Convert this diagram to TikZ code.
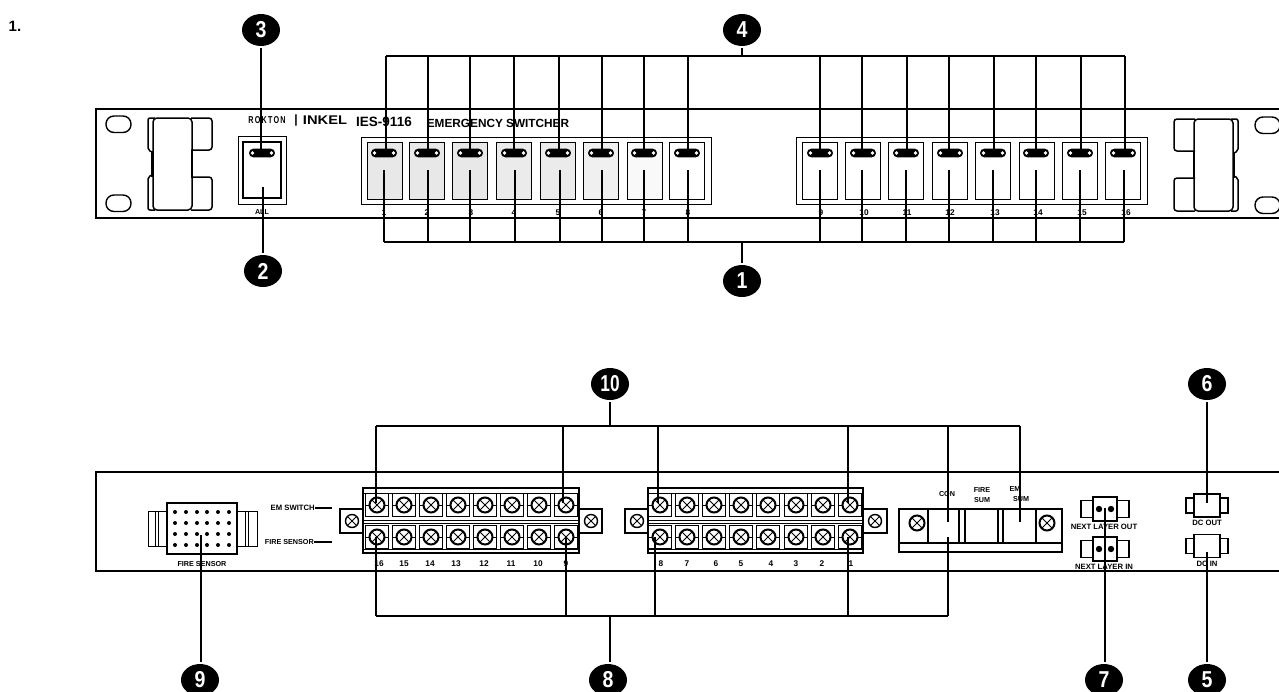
\documentclass[tikz,border=0pt]{standalone}
\usepackage{fontspec}
\setmainfont{Liberation Sans}
\usetikzlibrary{shapes.geometric}
\tikzset{
    leader/.style={line width=1.1pt, color=black},
    box/.style={line width=1pt, color=black},
    panel/.style={line width=1.5pt, color=black},
    bubble/.style={ellipse, fill=black, text=white, inner sep=0pt, outer sep=2pt, minimum width=38pt, minimum height=32pt, font=\bfseries\fontsize{23}{23}\selectfont},
    lab/.style={inner sep=0pt, font=\bfseries\fontsize{7.2}{8}\selectfont},
    numlab/.style={inner sep=0pt, font=\bfseries\fontsize{8.3}{9}\selectfont},
    plugnote/.style={inner sep=0pt, font=\bfseries\fontsize{7.7}{8}\selectfont},
    mounthole/.style={line width=1.4pt, rounded corners=8pt},
    screw/.pic={
        \draw[box] (-11.5,-11.5) rectangle (11.5,11.5);
        \draw[box] (-11.5,0) -- (-8,0) (8,0) -- (11.5,0);
        \draw[line width=2pt] (0,0) circle (7.5);
        \draw[line width=0.9pt] (-5,-5) -- (5,5) (-5,5) -- (5,-5);
    },
    earscrew/.pic={
        \draw[line width=1.4pt] (0,0) circle (6.5);
        \draw[line width=0.9pt] (-4.5,-4.5) -- (4.5,4.5) (-4.5,4.5) -- (4.5,-4.5);
    },
    handle/.pic={
        \draw[panel, rounded corners=4pt] (0,0) rectangle (39,92);
        \draw[panel, rounded corners=3pt] (38,0) -- (59,0) -- (59,32) -- (38,32);
        \draw[panel, rounded corners=3pt] (38,59) -- (59,59) -- (59,92) -- (38,92);
        \draw[panel, rounded corners=2pt] (2,0) -- (-5,0) -- (-5,32) -- (-1,34);
        \draw[panel, rounded corners=2pt] (-1,57) -- (-5,59) -- (-5,92) -- (2,92);
        \draw[line width=2.2pt] (-1,33) -- (-1,59) (39,32) -- (39,59);
    },
    powerplug/.pic={
        \draw[line width=1.2pt] (-13,-11.5) rectangle (13,11.5);
        \draw[line width=1.2pt] (-13,-7.5) -- (-21,-7.5) -- (-21,7.5) -- (-13,7.5);
        \draw[line width=1.2pt] (13,-7.5) -- (21,-7.5) -- (21,7.5) -- (13,7.5);
    },
    layerplug/.pic={
        \draw[line width=1.2pt] (-12,-12) rectangle (12,12);
        \draw[line width=1.2pt] (-12,-8.5) -- (-24,-8.5) -- (-24,8.5) -- (-12,8.5);
        \draw[line width=1.2pt] (12,-8.5) -- (24,-8.5) -- (24,8.5) -- (12,8.5);
        \fill (-6,0) circle (3.2) (6,0) circle (3.2);
    }
}
\begin{document}
\begin{tikzpicture}[x=1pt, y=-1pt]
    \useasboundingbox (0,0) rectangle (1279,691);
    \clip (0,0) rectangle (1279,691);
    \fill[white] (0,0) rectangle (1279,691);
    \node[inner sep=0pt, font=\bfseries\fontsize{15}{15}\selectfont] (title) at (15,26) {1.};

    % front panel
    \draw[panel] (1285,109) -- (96,109) -- (96,218) -- (1285,218);
    \foreach \hx/\hy in {106/116, 106/195, 1255/117, 1255/197} {
        \draw[mounthole] (\hx,\hy) rectangle +(25,16.5);
    }
    \pic at (153,118) {handle};
    \pic[xscale=-1] at (1233,119) {handle};
    \node[inner sep=0pt, font=\bfseries\fontsize{10}{10}\selectfont] (brandA) at (267,120) {\scalebox{0.72}[1]{R\,O\,K\,T\,O\,N}};
    \node[inner sep=0pt, font=\bfseries\fontsize{12}{12}\selectfont] (brandbar) at (296,120) {|};
    \node[inner sep=0pt, font=\bfseries\fontsize{14}{14}\selectfont] (brandB) at (325,120) {\scalebox{1.05}[0.9]{INKEL}};
    \node[inner sep=0pt, font=\bfseries\fontsize{13.5}{14}\selectfont] (modelname) at (384,122) {IES-9116};
    \node[inner sep=0pt, font=\bfseries\fontsize{11.8}{13}\selectfont] (switchername) at (498,123) {EMERGENCY SWITCHER};
    \draw[box] (238,136) rectangle (286,204);
    \draw[line width=1.7pt] (243,142) rectangle (281,198);
    \node[lab] (alllab) at (262,212) {ALL};
    \draw[box] (361,137) rectangle (711,204);
    \draw[box] (796,137) rectangle (1147,204);
    \foreach \n/\xs/\xo/\xt/\xb/\xl/\sh in {
        1/367/384/386/384/384/18, 2/409/427/428/428/427/18, 3/452/470/470/470/471/18, 4/496/514/514/515/514/16,
        5/540/558/559/560/558/16, 6/583/601/602/602/601/12, 7/627/644/644/644/644/5, 8/669/687/688/688/688/0,
        9/802/820/820/820/821/0, 10/845/863/862/862/864/0, 11/888/906/907/906/907/0, 12/932/950/949/949/950/0,
        13/975/993/994/993/995/0, 14/1019/1036/1036/1036/1038/0, 15/1062/1080/1081/1080/1082/0, 16/1105/1123/1125/1124/1126/0} {
        \draw[box, fill=gray!\sh] (\xs,142) rectangle +(35.5,57);
        \node[numlab] (numsw\n) at (\xl,213) {\n};
        \fill[rounded corners=4.2pt] (\xo-13,148.7) rectangle (\xo+13,157.3);
        \fill[white] (\xo-9.5,153) circle (1.8) (\xo+9.5,153) circle (1.8);
        \coordinate (upsw\n) at (\xt,153);
        \coordinate (upbus\n) at (\xt,56);
        \coordinate (lowsw\n) at (\xb,170);
        \coordinate (lowbus\n) at (\xb,242);
        \draw[leader] (upsw\n) -- (upbus\n);
        \draw[leader] (lowsw\n) -- (lowbus\n);
    }
    \fill[rounded corners=4.2pt] (249,148.7) rectangle (275,157.3);
    \fill[white] (252.5,153) circle (1.8) (271.5,153) circle (1.8);
    \draw[leader] (upbus1) -- (upbus16);
    \draw[leader] (lowbus1) -- (lowbus16);
    \node[bubble] (bubA) at (742,281) {\scalebox{0.85}[1]{1}};
    \node[bubble] (bubB) at (263,271) {\scalebox{0.85}[1]{2}};
    \node[bubble] (bubC) at (261,30) {\scalebox{0.85}[1]{3}};
    \node[bubble] (bubD) at (742,30) {\scalebox{0.85}[1]{4}};
    \coordinate (allup) at (261,153);
    \coordinate (alllow) at (263,187);
    \draw[leader] (bubC) -- (allup);
    \draw[leader] (bubB) -- (alllow);
    \draw[leader] (bubD) -- (bubD |- upbus1);
    \draw[leader] (bubA) -- (bubA |- lowbus1);

    % rear panel
    \draw[panel, line width=1.7pt] (1285,472) -- (96,472) -- (96,571) -- (1285,571);
    \draw[box] (148,511) rectangle (167,546) (155,511) -- (155,546) (158,511) -- (158,546);
    \draw[box] (237,511) rectangle (257,546) (245,511) -- (245,546) (248,511) -- (248,546);
    \draw[line width=2pt] (167,503) rectangle (237,554);
    \foreach \dx in {175,186,197,207,218,229} {
        \foreach \dy in {512,523,534,545} {
            \fill (\dx,\dy) circle (2);
        }
    }
    \node[lab] (sensorlab) at (202,564) {FIRE SENSOR};
    \node[plugnote, anchor=east] (emlab) at (315,508) {EM SWITCH};
    \node[lab, anchor=east] (firelab) at (314,542) {FIRE SENSOR};
    \coordinate (emtip) at (332,508);
    \coordinate (firetip) at (332,542);
    \draw[leader] (emlab) -- (emtip);
    \draw[leader] (firelab) -- (firetip);

    % terminal blocks
    \foreach \xa/\xb in {363/579, 648/863} {
        \draw[box, line width=1.2pt] (\xa,488) rectangle (\xb,553);
        \draw[box, line width=0.8pt] (\xa,493) -- (\xb,493) (\xa,520) -- (\xb,520) (\xa,523) -- (\xb,523) (\xa,549) -- (\xb,549);
    }
    \foreach \xa/\xb in {340/363, 579/602, 625/648, 863/887} {
        \draw[box, line width=1.2pt] (\xa,509) rectangle (\xb,533);
    }
    \foreach \xc in {352,591,637,875} {
        \pic at (\xc,521) {earscrew};
    }
    \foreach \xc in {377,404,431,458,485,512,539,566,660,687,714,741,768,796,823,850} {
        \foreach \yc in {505,537} {
            \pic at (\xc,\yc) {screw};
        }
    }
    \foreach \n/\xl in {16/379,15/404,14/430,13/456,12/484,11/511,10/538,9/566,8/661,7/687,6/716,5/741,4/771,3/796,2/822,1/851} {
        \node[numlab] (numtm\n) at (\xl,564) {\n};
    }

    % sum connector
    \draw[box, line width=1.2pt] (899,509) rectangle (1062,552);
    \draw[box, line width=1.2pt] (899,543) -- (1062,543);
    \foreach \xv in {928,959,965,998,1003,1036} {
        \draw[box, line width=1.2pt] (\xv,509) -- (\xv,543);
    }
    \foreach \xc in {917,1047} {
        \draw[line width=2pt] (\xc,523) circle (7.5);
        \draw[line width=0.9pt] (\xc-5,518) -- (\xc+5,528) (\xc-5,528) -- (\xc+5,518);
    }
    \node[lab] (conlab) at (947,494) {CON};
    \node[lab] (firesumA) at (982,490) {FIRE};
    \node[lab] (firesumB) at (982,500) {SUM};
    \node[lab] (emsumA) at (1015,489) {EM};
    \node[lab] (emsumB) at (1021,499) {SUM};

    % plugs
    \pic at (1105,509) {layerplug};
    \pic at (1105,549) {layerplug};
    \pic at (1207,505.5) {powerplug};
    \pic at (1207,546) {powerplug};
    \node[plugnote] (nextout) at (1104,527) {NEXT LAYER OUT};
    \node[plugnote] (nextin) at (1104,567) {NEXT LAYER IN};
    \node[plugnote] (dcout) at (1207,523) {DC OUT};
    \node[plugnote] (dcin) at (1207,564) {DC IN};

    % upper leaders of the rear panel
    \foreach \n/\xt/\yt in {1/376/503, 2/563/503, 3/658/503, 4/848/503, 5/948/522, 6/1020/522} {
        \coordinate (uptm\n) at (\xt,\yt);
        \coordinate (uptop\n) at (\xt,426);
        \draw[leader] (uptm\n) -- (uptop\n);
    }
    \foreach \n/\xt/\yt in {1/376/537, 2/566/537, 3/655/537, 4/848/537, 5/948/537} {
        \coordinate (lowtm\n) at (\xt,\yt);
        \coordinate (lowbot\n) at (\xt,616);
        \draw[leader] (lowtm\n) -- (lowbot\n);
    }
    \draw[leader] (uptop1) -- (uptop6);
    \draw[leader] (lowbot1) -- (lowbot5);
    \node[bubble] (bubE) at (1207,680) {\scalebox{0.85}[1]{5}};
    \node[bubble] (bubF) at (1207,384) {\scalebox{0.85}[1]{6}};
    \node[bubble] (bubG) at (1104,680) {\scalebox{0.85}[1]{7}};
    \node[bubble] (bubH) at (608,680) {\scalebox{0.85}[1]{8}};
    \node[bubble] (bubI) at (200,680) {\scalebox{0.85}[1]{9}};
    \node[bubble] (bubJ) at (610,384) {\scalebox{0.75}[1]{10}};
    \coordinate (dcinpt) at (1207,552);
    \coordinate (dcoutpt) at (1207,503);
    \coordinate (layerpt) at (1105,508);
    \coordinate (sensorpt) at (201,535);
    \draw[leader] (bubE) -- (dcinpt);
    \draw[leader] (bubF) -- (dcoutpt);
    \draw[leader] (bubG.north -| layerpt) -- (layerpt);
    \draw[leader] (bubI.north -| sensorpt) -- (sensorpt);
    \draw[leader] (bubJ) -- (bubJ |- uptop1);
    \coordinate (bushook) at (610,616);
    \draw[leader] (bubH.north -| bushook) -- (bushook);
\end{tikzpicture}
\end{document}
